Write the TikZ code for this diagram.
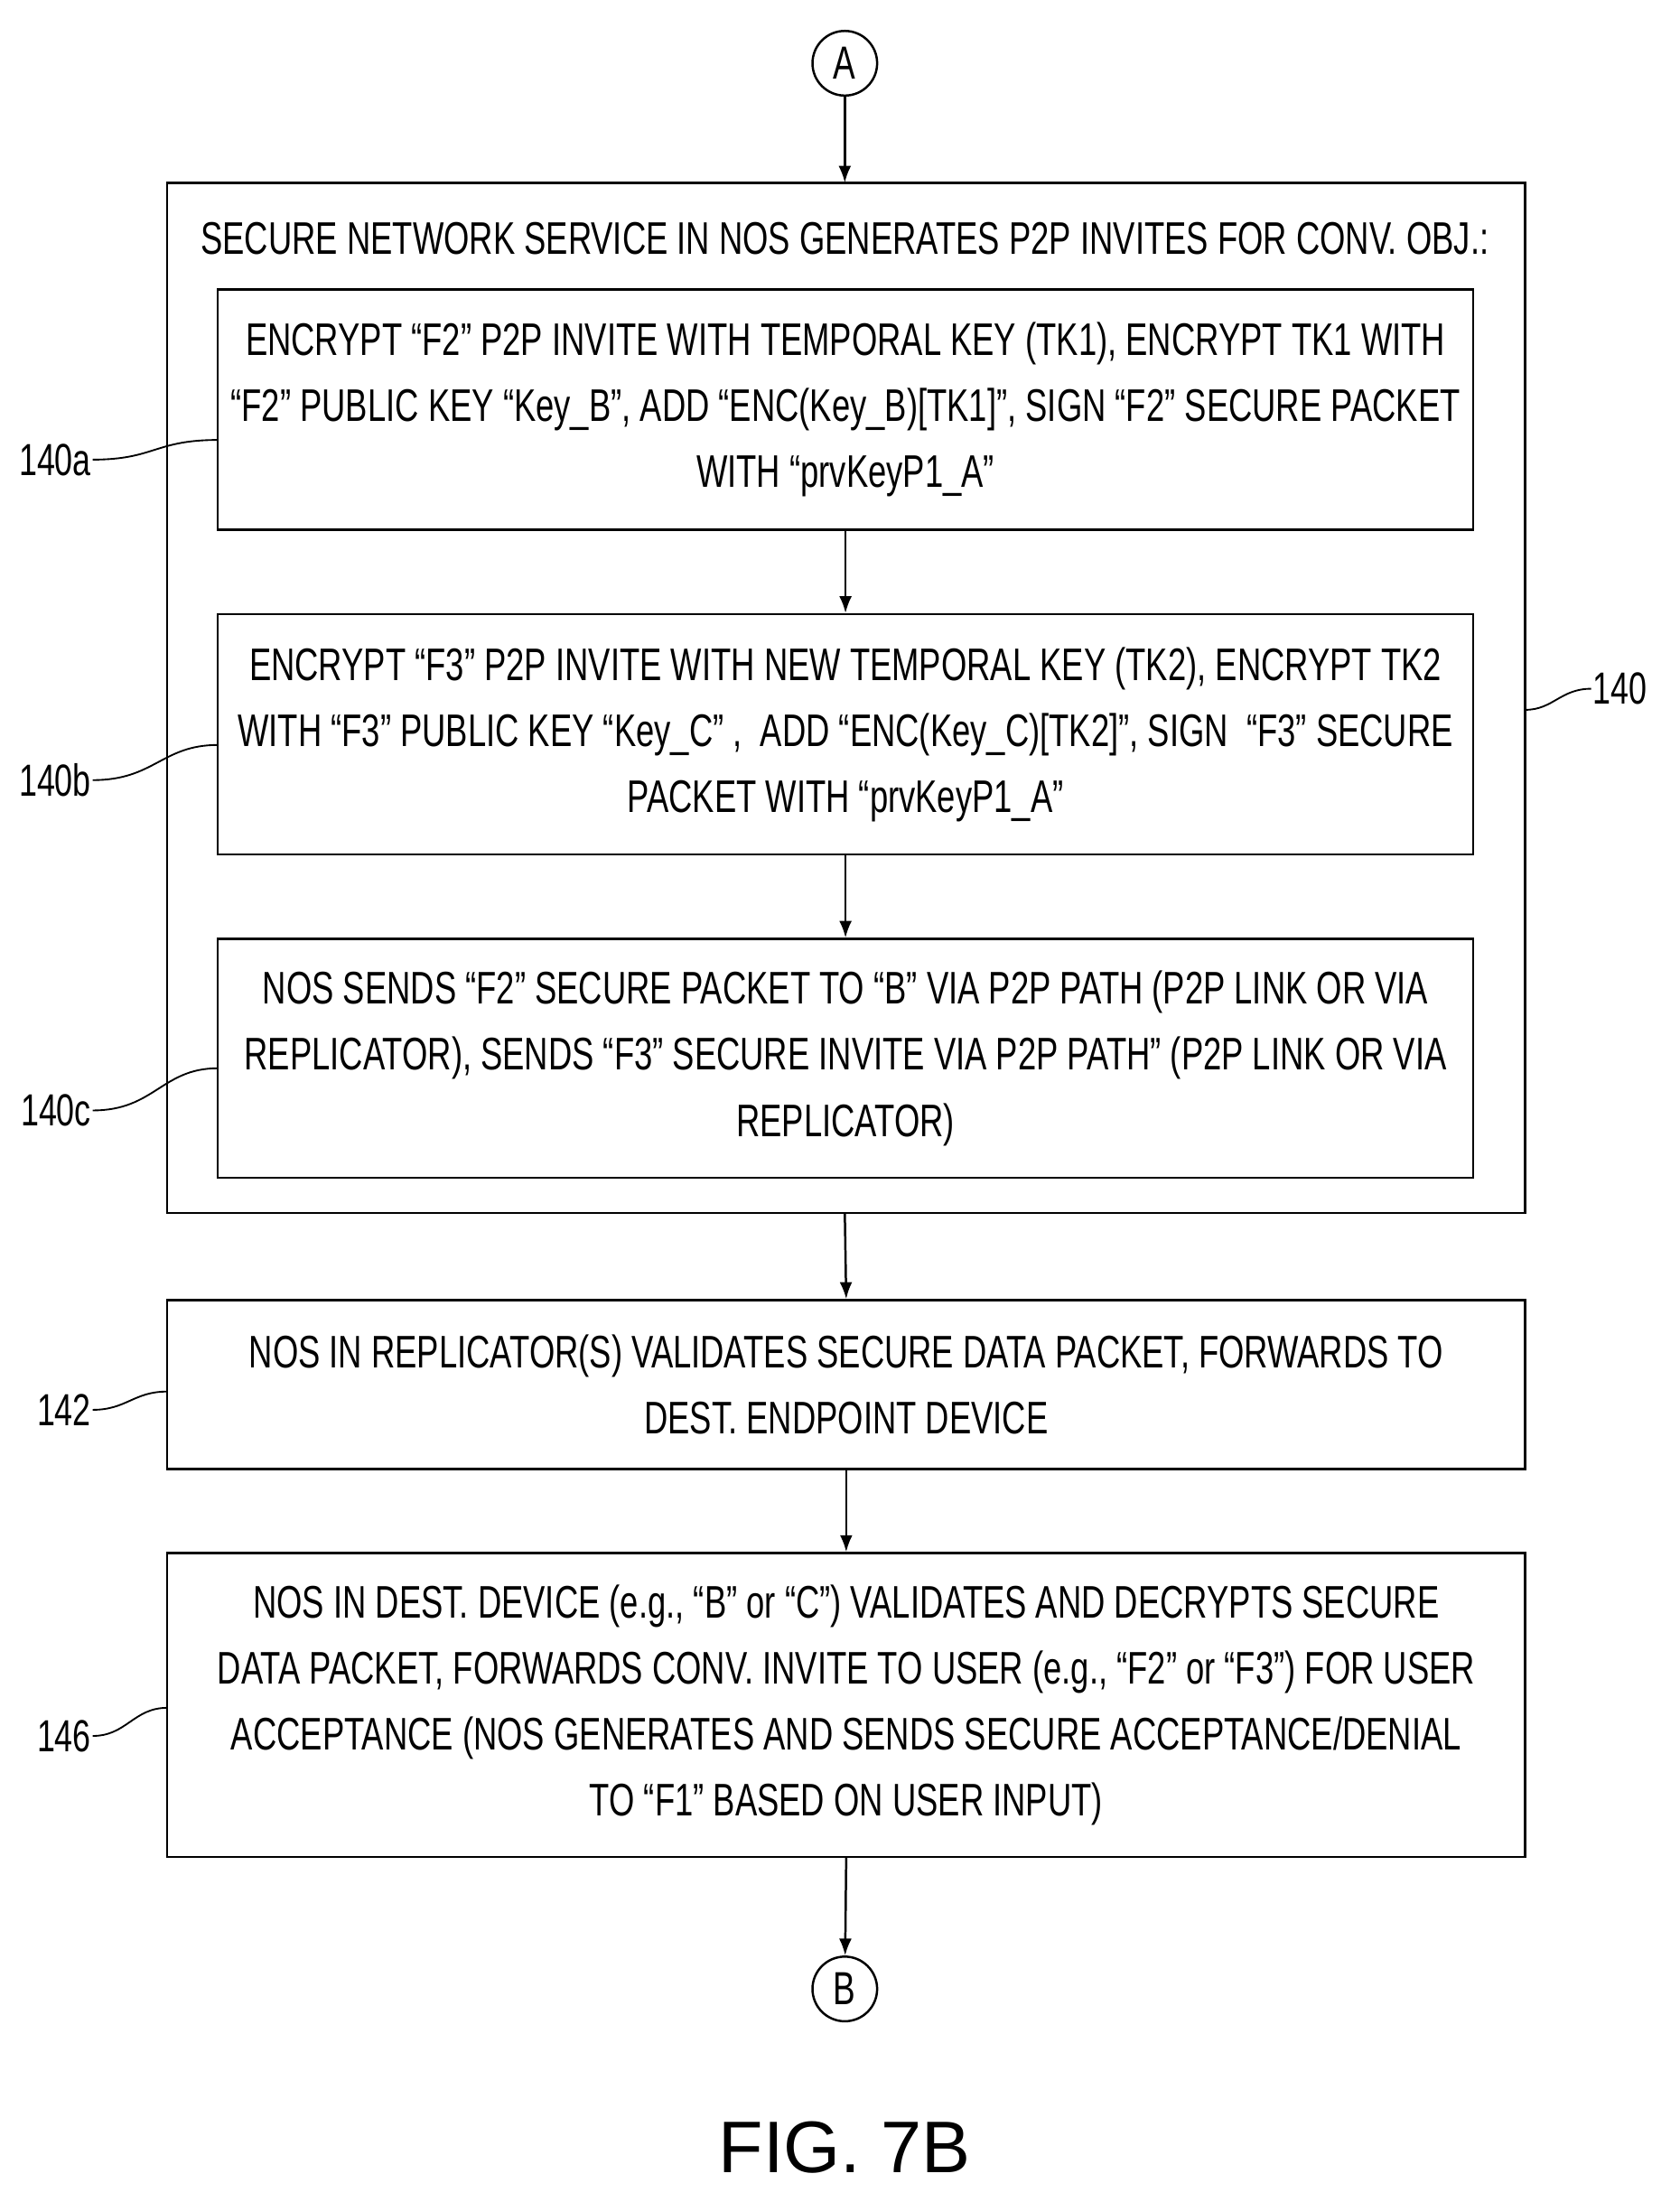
\documentclass[tikz,border=0pt]{standalone}
\usepackage{fontspec}
\usetikzlibrary{arrows.meta}
\setmainfont{Liberation Sans}[FakeStretch=0.72]
\newfontfamily\figfont{Liberation Sans}
\begin{document}
\begin{tikzpicture}[x=1pt,y=-1pt,
  box/.style={draw,line width=1.6pt},
  txt/.style={align=center,font=\fontsize{32.5}{47}\selectfont,inner sep=0pt},
  arr/.style={line width=1.6pt,-{Latex[length=12pt,width=9pt]}},
  con/.style={draw,circle,line width=1.6pt,minimum size=46pt,inner sep=0pt,font=\fontsize{33}{33}\selectfont},
  lab/.style={font=\fontsize{32}{32}\selectfont,inner sep=1pt},
  lead/.style={line width=1.2pt}]
\useasboundingbox (0,0) rectangle (1195,1573);
\node[con] (A) at (601,45) {A};
\node[con] (B) at (601,1415) {B};
\draw[box] (119,130) rectangle (1085,863);
\coordinate (o140t) at (601,130); \coordinate (o140b) at (601,863);
\node[txt] (t140) at (601,170) {SECURE NETWORK SERVICE IN NOS GENERATES P2P INVITES FOR CONV. OBJ.:};
\node[box,minimum width=893pt,minimum height=171pt,inner sep=0pt] (a) at (601.5,291.5) {};
\node[txt] at (a) {ENCRYPT “F2” P2P INVITE WITH TEMPORAL KEY (TK1), ENCRYPT TK1 WITH\\“F2” PUBLIC KEY “Key\_B”, ADD “ENC(Key\_B)[TK1]”, SIGN “F2” SECURE PACKET\\WITH “prvKeyP1\_A”};
\node[box,minimum width=893pt,minimum height=171pt,inner sep=0pt] (b) at (601.5,522.5) {};
\node[txt] at (b) {ENCRYPT “F3” P2P INVITE WITH NEW TEMPORAL KEY (TK2), ENCRYPT TK2\\WITH “F3” PUBLIC KEY “Key\_C” ,\ \ ADD “ENC(Key\_C)[TK2]”, SIGN\ \ “F3” SECURE\\PACKET WITH “prvKeyP1\_A”};
\node[box,minimum width=893pt,minimum height=170pt,inner sep=0pt] (c) at (601.5,753) {};
\node[txt] at (c) {NOS SENDS “F2” SECURE PACKET TO “B” VIA P2P PATH (P2P LINK OR VIA\\REPLICATOR), SENDS “F3” SECURE INVITE VIA P2P PATH” (P2P LINK OR VIA\\REPLICATOR)};
\node[box,minimum width=966pt,minimum height=120pt,inner sep=0pt] (d) at (602,985) {};
\node[txt] at (d) {NOS IN REPLICATOR(S) VALIDATES SECURE DATA PACKET, FORWARDS TO\\DEST. ENDPOINT DEVICE};
\node[box,minimum width=966pt,minimum height=216pt,inner sep=0pt] (e) at (602,1213) {};
\node[txt] at (e) {NOS IN DEST. DEVICE (e.g., “B” or “C”) VALIDATES AND DECRYPTS SECURE\\DATA PACKET, FORWARDS CONV. INVITE TO USER (e.g., “F2” or “F3”) FOR USER\\ACCEPTANCE (NOS GENERATES AND SENDS SECURE ACCEPTANCE/DENIAL\\TO “F1” BASED ON USER INPUT)};
\draw[arr] (A) -- (o140t);
\draw[arr] (a.south) -- (b.north);
\draw[arr] (b.south) -- (c.north);
\draw[arr] (o140b) -- (d.north);
\draw[arr] (d.south) -- (e.north);
\draw[arr] (e.south) -- (B);
\node[font=\figfont\fontsize{52}{52}\selectfont] (fig) at (601,1528) {FIG. 7B};
\node[lab,anchor=east] (l140a) at (66,327) {140a};
\node[lab,anchor=east] (l140b) at (66,555) {140b};
\node[lab,anchor=east] (l140c) at (66,790) {140c};
\node[lab,anchor=east] (l142) at (66,1003) {142};
\node[lab,anchor=east] (l146) at (66,1235) {146};
\node[lab,anchor=west] (l140) at (1132,490) {140};
\coordinate (pa) at (155,313); \coordinate (pb) at (155,530);
\coordinate (pc) at (155,760); \coordinate (pd) at (119,990);
\coordinate (pe) at (119,1215); \coordinate (po) at (1085,505);
\draw[lead] (l140a.east) .. controls (110,327) and (110,313) .. (pa);
\draw[lead] (l140b.east) .. controls (110,555) and (115,530) .. (pb);
\draw[lead] (l140c.east) .. controls (110,790) and (115,760) .. (pc);
\draw[lead] (l142.east) .. controls (90,1003) and (95,990) .. (pd);
\draw[lead] (l146.east) .. controls (90,1235) and (95,1215) .. (pe);
\draw[lead] (po) .. controls (1105,505) and (1110,490) .. (l140.west);
\end{tikzpicture}
\end{document}
